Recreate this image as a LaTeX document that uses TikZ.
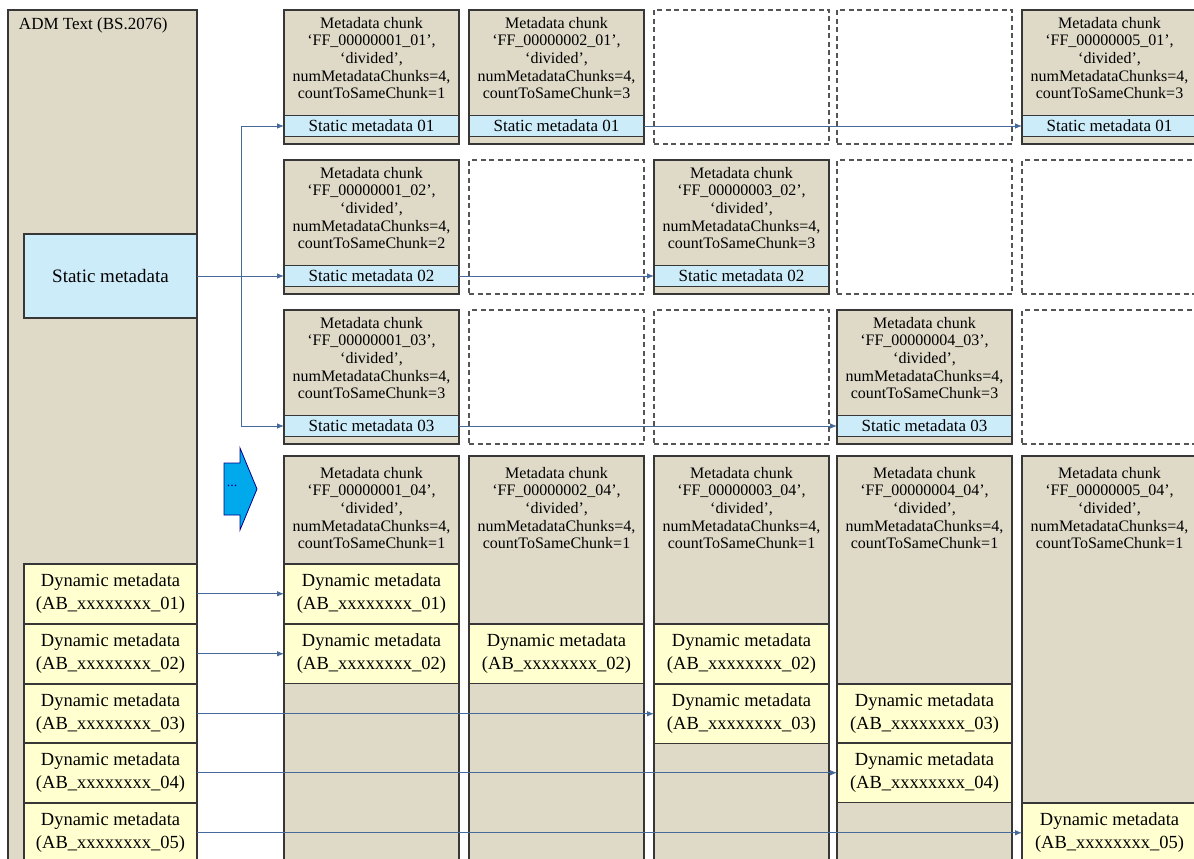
\documentclass[tikz,border=0pt]{standalone}
\usepackage{fontspec}
\setmainfont{Liberation Serif}
\usepackage{xcolor}
\usepackage{tikz}
\usetikzlibrary{arrows,arrows.meta,positioning}

\definecolor{admtan}{RGB}{223,218,199}
\definecolor{admblue}{RGB}{205,236,250}
\definecolor{admyellow}{RGB}{255,255,208}
\definecolor{admline}{RGB}{55,55,55}
\definecolor{linkblue}{RGB}{70,105,155}
\definecolor{arrowcyan}{RGB}{0,168,236}

\begin{document}
\begin{tikzpicture}[x=1pt,y=-1pt,>={Latex[length=7pt,width=5.5pt]}]
\tikzstyle{every node} = [inner sep=0pt, outer sep=0pt]
\tikzstyle{chunkbox} = [draw=admline, fill=admtan, line width=1.3pt, minimum width=175pt, minimum height=134pt, anchor=north west]
\tikzstyle{emptybox} = [draw=admline!85, dash pattern=on 5pt off 3.5pt, line width=1.3pt, minimum width=175pt, minimum height=134pt, anchor=north west]
\tikzstyle{statbar} = [draw=admline, fill=admblue, line width=1.3pt, minimum width=175pt, minimum height=21pt, font=\fontsize{17}{20}\selectfont]
\tikzstyle{chunktext} = [align=center, font=\fontsize{16}{17.7}\selectfont]
\tikzstyle{dynbox} = [draw=admline, fill=admyellow, line width=1.3pt, minimum width=175pt, minimum height=59.5pt, anchor=north west, align=center, font=\fontsize{18.5}{22.5}\selectfont]
\tikzstyle{link} = [draw=linkblue, line width=0.8pt]
\useasboundingbox (0,0) rectangle (1194,859);
\clip (0,0) rectangle (1194,859);

% ADM text on the left
\node[chunkbox, minimum width=189pt, minimum height=870pt] (adm) at (8,10) {};
\node[anchor=west, font=\fontsize{17}{20}\selectfont] (admlabel) at (19,25) {ADM Text (BS.2076)};
\node[draw=admline, fill=admblue, line width=1.3pt, minimum width=173pt, minimum height=84pt, font=\fontsize{19}{22}\selectfont] (sm) at (110.5,276) {Static metadata};
\node[dynbox, minimum width=173pt] (dyn1) at (24,564) {Dynamic metadata\\(AB\_xxxxxxxx\_01)};
\node[dynbox, minimum width=173pt] (dyn2) at (24,624) {Dynamic metadata\\(AB\_xxxxxxxx\_02)};
\node[dynbox, minimum width=173pt] (dyn3) at (24,684) {Dynamic metadata\\(AB\_xxxxxxxx\_03)};
\node[dynbox, minimum width=173pt] (dyn4) at (24,743) {Dynamic metadata\\(AB\_xxxxxxxx\_04)};
\node[dynbox, minimum width=173pt] (dyn5) at (24,803) {Dynamic metadata\\(AB\_xxxxxxxx\_05)};

\coordinate (br1) at (241,126);
\coordinate (br3) at (241,426);
\draw[link] (br1) -- (br3);

% row 1
\node[chunkbox] (c11) at (284,10) {};
\node[chunktext] (t11) at (371.5,58) {Metadata chunk\\‘FF\_00000001\_01’,\\‘divided’,\\numMetadataChunks=4,\\countToSameChunk=1};
\node[statbar] (b11) at (371.5,126) {Static metadata 01}
	edge[link, <-] (br1);
\node[chunkbox] (c21) at (469,10) {};
\node[chunktext] (t21) at (556.5,58) {Metadata chunk\\‘FF\_00000002\_01’,\\‘divided’,\\numMetadataChunks=4,\\countToSameChunk=3};
\node[statbar] (b21) at (556.5,126) {Static metadata 01};
\node[emptybox] (c31) at (654,10) {};
\node[emptybox] (c41) at (837,10) {};
\node[chunkbox] (c51) at (1022,10) {};
\node[chunktext] (t51) at (1109.5,58) {Metadata chunk\\‘FF\_00000005\_01’,\\‘divided’,\\numMetadataChunks=4,\\countToSameChunk=3};
\node[statbar] (b51) at (1109.5,126) {Static metadata 01}
	edge[link, <-] (b21);

% row 2
\node[chunkbox] (c12) at (284,160) {};
\node[chunktext] (t12) at (371.5,208) {Metadata chunk\\‘FF\_00000001\_02’,\\‘divided’,\\numMetadataChunks=4,\\countToSameChunk=2};
\node[statbar] (b12) at (371.5,276) {Static metadata 02}
	edge[link, <-] (sm);
\node[emptybox] (c22) at (469,160) {};
\node[chunkbox] (c32) at (654,160) {};
\node[chunktext] (t32) at (741.5,208) {Metadata chunk\\‘FF\_00000003\_02’,\\‘divided’,\\numMetadataChunks=4,\\countToSameChunk=3};
\node[statbar] (b32) at (741.5,276) {Static metadata 02}
	edge[link, <-] (b12);
\node[emptybox] (c42) at (837,160) {};
\node[emptybox] (c52) at (1022,160) {};

% row 3
\node[chunkbox] (c13) at (284,310) {};
\node[chunktext] (t13) at (371.5,358) {Metadata chunk\\‘FF\_00000001\_03’,\\‘divided’,\\numMetadataChunks=4,\\countToSameChunk=3};
\node[statbar] (b13) at (371.5,426) {Static metadata 03}
	edge[link, <-] (br3);
\node[emptybox] (c23) at (469,310) {};
\node[emptybox] (c33) at (654,310) {};
\node[chunkbox] (c43) at (837,310) {};
\node[chunktext] (t43) at (924.5,358) {Metadata chunk\\‘FF\_00000004\_03’,\\‘divided’,\\numMetadataChunks=4,\\countToSameChunk=3};
\node[statbar] (b43) at (924.5,426) {Static metadata 03}
	edge[link, <-] (b13);
\node[emptybox] (c53) at (1022,310) {};

% big arrow
\draw[fill=arrowcyan, draw=blue!55!black, line width=0.8pt] (224,463) -- (240,463) -- (240,448) -- (257,489) -- (240,530) -- (240,515) -- (224,515) -- cycle;
\node[text=blue!50!black, font=\fontsize{14}{14}\selectfont] (dots) at (232,486) {...};

% row 4 with dynamic metadata
\node[chunkbox, minimum height=414pt] (c14) at (284,456) {};
\node[chunktext] (t14) at (371.5,508) {Metadata chunk\\‘FF\_00000001\_04’,\\‘divided’,\\numMetadataChunks=4,\\countToSameChunk=1};
\node[dynbox] (d11) at (284,564) {Dynamic metadata\\(AB\_xxxxxxxx\_01)}
	edge[link, <-] (dyn1);
\node[dynbox] (d12) at (284,624) {Dynamic metadata\\(AB\_xxxxxxxx\_02)}
	edge[link, <-] (dyn2);

\node[chunkbox, minimum height=414pt] (c24) at (469,456) {};
\node[chunktext] (t24) at (556.5,508) {Metadata chunk\\‘FF\_00000002\_04’,\\‘divided’,\\numMetadataChunks=4,\\countToSameChunk=1};
\node[dynbox] (d22) at (469,624) {Dynamic metadata\\(AB\_xxxxxxxx\_02)};

\node[chunkbox, minimum height=414pt] (c34) at (654,456) {};
\node[chunktext] (t34) at (741.5,508) {Metadata chunk\\‘FF\_00000003\_04’,\\‘divided’,\\numMetadataChunks=4,\\countToSameChunk=1};
\node[dynbox] (d32) at (654,624) {Dynamic metadata\\(AB\_xxxxxxxx\_02)};
\node[dynbox] (d33) at (654,684) {Dynamic metadata\\(AB\_xxxxxxxx\_03)}
	edge[link, <-] (dyn3);

\node[chunkbox, minimum height=414pt] (c44) at (837,456) {};
\node[chunktext] (t44) at (924.5,508) {Metadata chunk\\‘FF\_00000004\_04’,\\‘divided’,\\numMetadataChunks=4,\\countToSameChunk=1};
\node[dynbox] (d43) at (837,684) {Dynamic metadata\\(AB\_xxxxxxxx\_03)};
\node[dynbox] (d44) at (837,743) {Dynamic metadata\\(AB\_xxxxxxxx\_04)}
	edge[link, <-] (dyn4);

\node[chunkbox, minimum height=414pt] (c54) at (1022,456) {};
\node[chunktext] (t54) at (1109.5,508) {Metadata chunk\\‘FF\_00000005\_04’,\\‘divided’,\\numMetadataChunks=4,\\countToSameChunk=1};
\node[dynbox] (d55) at (1022,803) {Dynamic metadata\\(AB\_xxxxxxxx\_05)}
	edge[link, <-] (dyn5);
\end{tikzpicture}
\end{document}
